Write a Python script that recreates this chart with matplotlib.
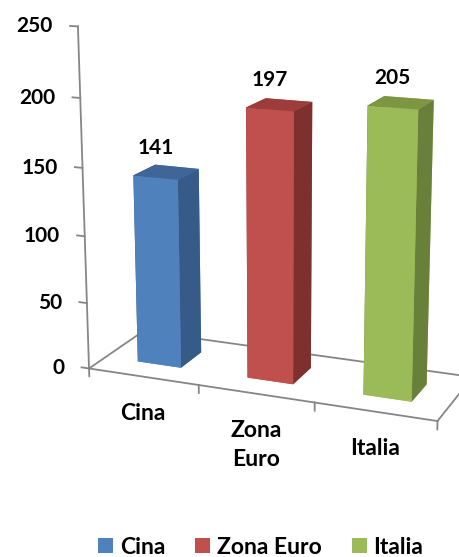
import matplotlib
matplotlib.use("Agg")
import matplotlib.pyplot as plt
from matplotlib.patches import Patch
from mpl_toolkits.mplot3d import proj3d

categories = ["Cina", "Zona Euro", "Italia"]
tick_labels = ["Cina", "Zona\nEuro", "Italia"]
values = [141, 197, 205]
yticks = [0, 50, 100, 150, 200, 250]
front_colors = ["#4F81BD", "#C0504D", "#9BBB59"]
side_colors = ["#375B88", "#7E302E", "#68803A"]
top_colors = ["#3F6599", "#9C3D3B", "#7C9642"]

plt.rcParams['font.family'] = ['Lato', 'DejaVu Sans']
plt.rcParams['font.weight'] = 'bold'

fig = plt.figure(figsize=(4.6, 5.57), dpi=100)
ax = fig.add_axes([0.094, 0.17, 1.0, 0.9], projection='3d', computed_zorder=False)
ax.set_proj_type('persp', focal_length=0.65)
ax.view_init(elev=15, azim=-68)
ax.set_box_aspect((3, 1, 2.85), zoom=1.123)
n = len(categories)
ax.set_xlim(0, n)
ax.set_ylim(0, 1)
ax.set_zlim(0, 250)
ax.set_axis_off()
M = ax.get_proj()


def put(x, y, z, s, dx, dy, size=15, **kw):
    # place 2D text at the projected point of a 3D data position
    px, py, _ = proj3d.proj_transform(x, y, z, M)
    ax.annotate(s, (px, py), xycoords="data", xytext=(dx, dy),
                textcoords="offset points", fontsize=size, fontweight="bold",
                annotation_clip=False, zorder=5, **kw)


gray = "#868686"
# floor
ax.plot([0, n], [1, 1], [0, 0], color=gray, lw=1.3, zorder=1)
ax.plot([0, 0], [0, 1], [0, 0], color=gray, lw=1.3, zorder=1)
ax.plot([n, n], [0, 1], [0, 0], color=gray, lw=1.3, zorder=1)
ax.plot([0, n], [0, 0], [0, 0], color=gray, lw=1.3, zorder=1)
for i in range(n + 1):
    ax.plot([i, i], [0, 0], [0, -6], color=gray, lw=1.3, zorder=1)

# value axis
ax.plot([0, 0], [0, 0], [0, yticks[-1]], color=gray, lw=1.3, zorder=1)
for v in yticks:
    ax.plot([-0.07, 0], [0, 0], [v, v], color=gray, lw=1.3, zorder=1)
    put(0, 0, v, str(v), -18, 0, ha="right", va="center")

# bars
w = 0.4
xs = [i + 0.3 for i in range(n)]
colors = []
for i in range(n):
    colors += [front_colors[i], top_colors[i], front_colors[i],
               front_colors[i], side_colors[i], side_colors[i]]
ax.bar3d(xs, [0.3] * n, [0] * n, w, 0.4, values, color=colors,
         shade=False, linewidth=0, zorder=2)

for i, v in enumerate(values):
    put(i + 0.5, 0.3, v, str(v), 0, 21.5, ha="center", va="center")
    put(i + 0.5, 0, 0, tick_labels[i], 0, -19, size=16.5, ha="center",
        va="top", linespacing=1.45)

handles = [Patch(facecolor=c) for c in front_colors]
fig.legend(handles, categories, loc="lower center", bbox_to_anchor=(0.567, -0.038),
           ncol=3, frameon=False, fontsize=16.5, handlelength=0.65,
           handleheight=0.65, columnspacing=1.3, handletextpad=0.3)

fig.savefig("out.png", dpi=100)
